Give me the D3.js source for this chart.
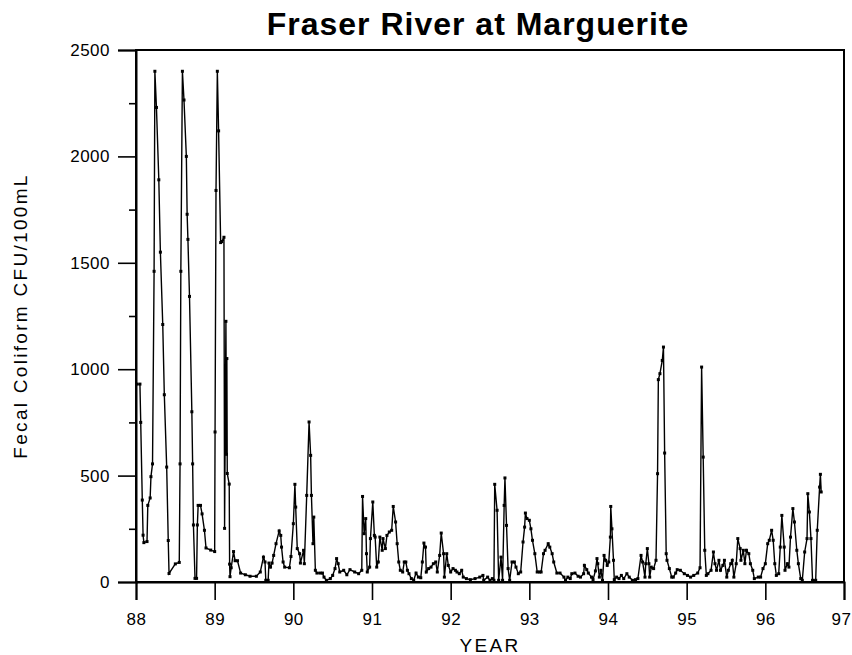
<!DOCTYPE html>
<html>
<head>
<meta charset="utf-8">
<script src="https://cdn.jsdelivr.net/npm/d3@7"></script>
<style>
  html, body { margin: 0; padding: 0; background: #ffffff; }
  svg { display: block; }
  text { font-family: "Liberation Sans", Arial, sans-serif; fill: #000; }
</style>
</head>
<body>
<div id="chart"></div>
<script>
// ---------- data ----------
const chartTitle = "Fraser River at Marguerite";
const xTitle = "YEAR";
const yTitle = "Fecal Coliform CFU/100mL";
const xTickValues = [88, 89, 90, 91, 92, 93, 94, 95, 96, 97];
const yMajorTicks = [0, 500, 1000, 1500, 2000, 2500];
const yMinorTicks = [250, 750, 1250, 1750, 2250];

// sampling dates (decimal year, 19xx)
const sampleYear = [
  88.01, 88.05, 88.06, 88.08, 88.09, 88.10, 88.14, 88.15, 88.18, 88.19,
  88.21, 88.23, 88.24, 88.26, 88.29, 88.31, 88.34, 88.36, 88.39, 88.41,
  88.42, 88.50, 88.55, 88.56, 88.57, 88.59, 88.61, 88.64, 88.65, 88.66,
  88.68, 88.71, 88.72, 88.73, 88.75, 88.77, 88.78, 88.79, 88.82, 88.84,
  88.87, 88.89, 88.95, 89.00, 89.005, 89.017, 89.034, 89.05, 89.076, 89.09,
  89.118, 89.126, 89.143, 89.15, 89.155, 89.16, 89.185, 89.19, 89.195, 89.21,
  89.24, 89.26, 89.29, 89.33, 89.39, 89.45, 89.53, 89.58, 89.62, 89.64,
  89.65, 89.68, 89.69, 89.71, 89.73, 89.75, 89.78, 89.82, 89.84, 89.85,
  89.87, 89.89, 89.95, 89.97, 90.00, 90.02, 90.03, 90.05, 90.08, 90.09,
  90.13, 90.14, 90.17, 90.20, 90.22, 90.23, 90.25, 90.26, 90.28, 90.30,
  90.34, 90.37, 90.39, 90.42, 90.47, 90.50, 90.53, 90.55, 90.57, 90.59,
  90.64, 90.68, 90.72, 90.78, 90.83, 90.87, 90.88, 90.90, 90.92, 90.93,
  90.94, 90.97, 90.98, 91.01, 91.03, 91.04, 91.06, 91.08, 91.10, 91.13,
  91.14, 91.17, 91.19, 91.22, 91.25, 91.27, 91.30, 91.32, 91.34, 91.36,
  91.39, 91.41, 91.43, 91.45, 91.47, 91.50, 91.53, 91.56, 91.59, 91.62,
  91.64, 91.66, 91.68, 91.69, 91.72, 91.75, 91.78, 91.81, 91.83, 91.86,
  91.88, 91.91, 91.92, 91.95, 91.97, 92.00, 92.03, 92.06, 92.08, 92.11,
  92.14, 92.16, 92.20, 92.25, 92.31, 92.37, 92.41, 92.42, 92.47, 92.50,
  92.53, 92.55, 92.56, 92.59, 92.61, 92.64, 92.66, 92.68, 92.69, 92.71,
  92.73, 92.75, 92.78, 92.81, 92.83, 92.86, 92.89, 92.92, 92.94, 92.95,
  92.97, 93.00, 93.02, 93.04, 93.07, 93.10, 93.13, 93.15, 93.18, 93.20,
  93.24, 93.26, 93.29, 93.31, 93.35, 93.39, 93.44, 93.46, 93.49, 93.52,
  93.54, 93.58, 93.62, 93.65, 93.69, 93.70, 93.73, 93.75, 93.79, 93.81,
  93.84, 93.86, 93.87, 93.89, 93.91, 93.93, 93.95, 93.97, 93.99, 94.01,
  94.03, 94.035, 94.05, 94.07, 94.08, 94.11, 94.14, 94.17, 94.20, 94.24,
  94.27, 94.31, 94.35, 94.38, 94.42, 94.44, 94.47, 94.48, 94.50, 94.52,
  94.53, 94.55, 94.58, 94.61, 94.63, 94.64, 94.66, 94.69, 94.705, 94.72,
  94.74, 94.75, 94.78, 94.81, 94.83, 94.86, 94.88, 94.92, 94.97, 95.01,
  95.05, 95.09, 95.14, 95.17, 95.19, 95.21, 95.23, 95.25, 95.27, 95.31,
  95.34, 95.36, 95.38, 95.41, 95.43, 95.46, 95.48, 95.51, 95.53, 95.56,
  95.58, 95.60, 95.63, 95.65, 95.68, 95.69, 95.72, 95.74, 95.76, 95.79,
  95.81, 95.84, 95.86, 95.91, 95.94, 95.97, 96.00, 96.03, 96.05, 96.08,
  96.10, 96.12, 96.14, 96.17, 96.19, 96.21, 96.24, 96.25, 96.28, 96.30,
  96.32, 96.35, 96.37, 96.40, 96.42, 96.45, 96.47, 96.50, 96.53, 96.54,
  96.56, 96.58, 96.60, 96.64, 96.66, 96.69, 96.70, 96.71
];

// fecal coliform, CFU/100mL
const fecalColiform = [
  930, 930, 750, 385, 220, 185, 190, 360, 395, 495,
  555, 1460, 2400, 2230, 1890, 1550, 1210, 880, 540, 195,
  40, 85, 92, 555, 1460, 2400, 2265, 2000, 1728, 1610,
  1342, 800, 555, 268, 17, 17, 268, 360, 360, 320,
  243, 160, 150, 143, 705, 1840, 2400, 2120, 1595, 1600,
  1620, 252, 1225, 600, 1050, 510, 460, 84, 25, 67,
  143, 100, 100, 42, 34, 27, 27, 47, 117, 94,
  8, 8, 89, 70, 89, 125, 180, 240, 219, 164,
  94, 70, 67, 120, 274, 459, 352, 157, 133, 89,
  149, 86, 407, 752, 595, 407, 180, 305, 55, 42,
  42, 42, 23, 8, 16, 31, 63, 110, 86, 47,
  55, 34, 58, 47, 39, 55, 402, 227, 298, 133,
  47, 70, 204, 376, 219, 211, 70, 94, 211, 149,
  204, 157, 219, 235, 243, 355, 282, 180, 94, 55,
  47, 94, 94, 55, 39, 16, 8, 42, 23, 20,
  94, 183, 164, 47, 63, 70, 86, 94, 47, 125,
  230, 133, 23, 133, 78, 47, 63, 55, 47, 39,
  55, 23, 16, 11, 16, 23, 31, 8, 23, 8,
  16, 8, 459, 337, 8, 117, 8, 360, 489, 266,
  63, 8, 94, 94, 70, 39, 47, 188, 258, 324,
  298, 290, 250, 196, 133, 47, 47, 47, 133, 149,
  180, 164, 133, 94, 42, 42, 23, 8, 23, 16,
  39, 42, 27, 23, 39, 78, 58, 42, 23, 11,
  52, 110, 86, 23, 55, 8, 125, 102, 78, 94,
  211, 355, 250, 102, 11, 23, 16, 31, 16, 39,
  23, 8, 11, 16, 125, 94, 23, 86, 157, 86,
  23, 70, 63, 102, 509, 951, 979, 1041, 1104, 606,
  133, 102, 63, 23, 23, 42, 58, 55, 39, 31,
  23, 31, 42, 67, 1010, 587, 149, 31, 39, 55,
  141, 86, 55, 102, 55, 78, 102, 23, 55, 86,
  102, 23, 86, 204, 157, 102, 149, 86, 149, 133,
  86, 55, 16, 23, 23, 63, 86, 180, 196, 243,
  196, 86, 31, 39, 164, 313, 164, 55, 86, 70,
  211, 345, 282, 149, 86, 16, 8, 141, 204, 415,
  329, 204, 8, 8, 243, 446, 506, 423
];

// ---------- chart ----------
const W = 852, H = 655;
const plot = { left: 136, right: 844, top: 50, bottom: 582 };

const svg = d3.select("#chart").append("svg")
  .attr("width", W).attr("height", H);

const x = d3.scaleLinear().domain([88, 97]).range([plot.left, plot.right]);
const y = d3.scaleLinear().domain([0, 2500]).range([plot.bottom, plot.top]);

const points = sampleYear.map((t, i) => ({ t, v: fecalColiform[i] }));

// frame
svg.append("rect")
  .attr("x", plot.left).attr("y", plot.top)
  .attr("width", plot.right - plot.left)
  .attr("height", plot.bottom - plot.top)
  .attr("fill", "none").attr("stroke", "#000").attr("stroke-width", 2);

// y axis (major ticks with labels)
svg.append("g")
  .attr("transform", `translate(${plot.left},0)`)
  .call(d3.axisLeft(y).tickValues(yMajorTicks).tickSize(18).tickPadding(8)
    .tickFormat(d3.format("d")));
// y minor ticks
svg.append("g")
  .attr("transform", `translate(${plot.left},0)`)
  .call(d3.axisLeft(y).tickValues(yMinorTicks).tickSize(7).tickFormat(""))
  .call(g => g.select(".domain").remove());

// x axis
svg.append("g")
  .attr("transform", `translate(0,${plot.bottom})`)
  .call(d3.axisBottom(x).tickValues(xTickValues).tickSize(18).tickPadding(13)
    .tickFormat(d3.format("d")))
  .call(g => g.selectAll(".tick text")
    .filter(d => d === 97).attr("dx", "-3"));

svg.selectAll(".tick line").attr("stroke", "#000").attr("stroke-width", 1.6);
svg.selectAll(".domain").attr("stroke", "#000").attr("stroke-width", 2);
svg.selectAll(".tick text")
  .style("font-family", "'Liberation Sans', Arial, sans-serif")
  .style("font-size", "17px")
  .style("letter-spacing", "0.5px")
  .attr("fill", "#000");

// data line
const line = d3.line().x(d => x(d.t)).y(d => y(d.v));
svg.append("path")
  .datum(points)
  .attr("d", line)
  .attr("fill", "none")
  .attr("stroke", "#000")
  .attr("stroke-width", 1.4)
  .attr("stroke-linejoin", "miter");

// markers
svg.append("g").selectAll("rect")
  .data(points)
  .join("rect")
  .attr("x", d => x(d.t) - 1.5)
  .attr("y", d => y(d.v) - 1.5)
  .attr("width", 3).attr("height", 3)
  .attr("fill", "#000");

// title
svg.append("text")
  .attr("x", 478).attr("y", 35)
  .attr("text-anchor", "middle")
  .style("font-size", "32px")
  .style("font-weight", "bold")
  .style("letter-spacing", "1px")
  .text(chartTitle);

// x title
svg.append("text")
  .attr("x", (plot.left + plot.right) / 2).attr("y", 652)
  .attr("text-anchor", "middle")
  .style("font-size", "19px")
  .style("letter-spacing", "2.3px")
  .text(xTitle);

// y title
svg.append("text")
  .attr("transform", `translate(27,${(plot.top + plot.bottom) / 2}) rotate(-90)`)
  .attr("text-anchor", "middle")
  .style("font-size", "19px")
  .style("letter-spacing", "2.3px")
  .text(yTitle);
</script>
</body>
</html>
